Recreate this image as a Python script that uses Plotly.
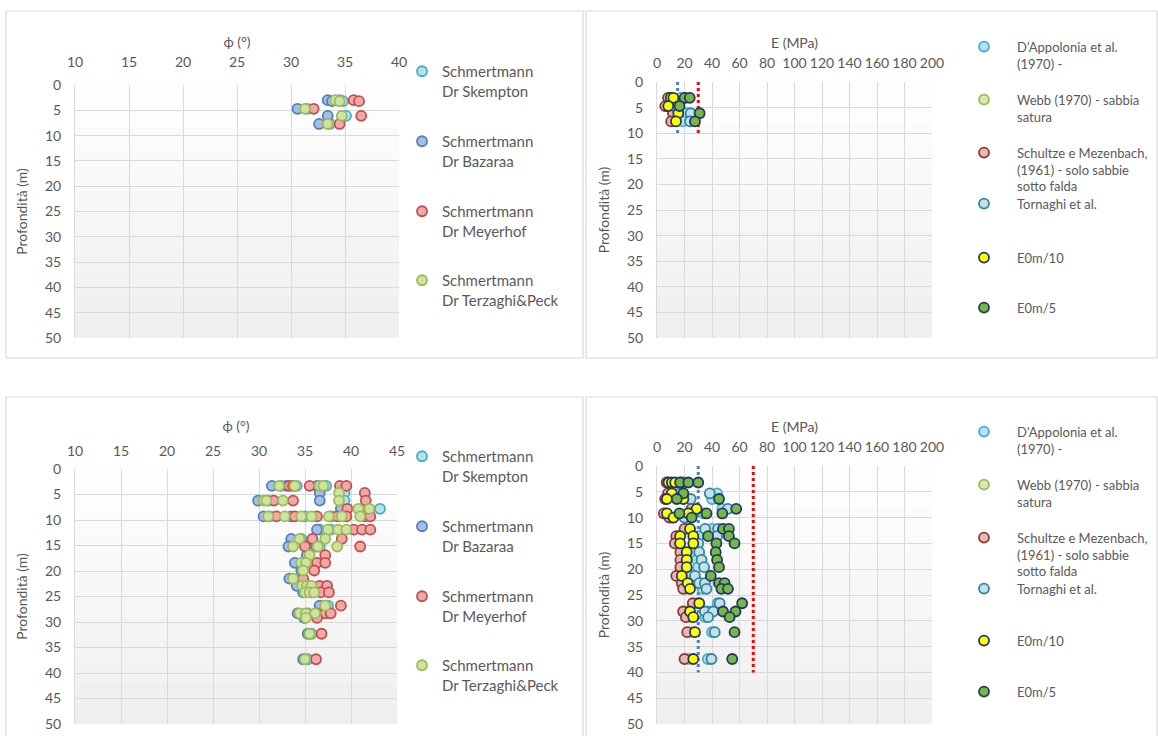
import plotly.graph_objects as go

W, H = 1158, 736

# ---------------- DATA ----------------
# Top-left: phi (deg) vs depth (m)
tl_depth_skempton = [3.0, 3.2, 4.7, 6.1, 7.7]
tl_phi_skempton = [34.5, 34.8, 31.5, 35.1, 33.6]
tl_depth_bazaraa = [3.0, 3.2, 4.7, 6.1, 7.7]
tl_phi_bazaraa = [33.4, 33.8, 30.6, 33.4, 32.6]
tl_depth_meyerhof = [3.0, 3.2, 4.7, 6.1, 7.7]
tl_phi_meyerhof = [35.8, 36.3, 32.1, 36.5, 34.5]
tl_depth_terzaghi = [3.0, 3.2, 4.7, 6.1, 7.7]
tl_phi_terzaghi = [34.1, 34.5, 31.3, 34.7, 33.4]

# Top-right: E (MPa) vs depth (m)
tr_depth_dappolonia = [3.1, 4.7, 6.1, 7.7]
tr_E_dappolonia = [17.0, 11.0, 21.0, 19.0]
tr_depth_webb = [3.1, 4.7, 6.1, 7.7]
tr_E_webb = [9.0, 6.5, 12.5, 11.5]
tr_depth_schultze = [3.1, 4.7, 6.1, 7.7]
tr_E_schultze = [8.0, 6.0, 11.6, 10.3]
tr_depth_tornaghi = [3.1, 4.7, 6.1, 7.7]
tr_E_tornaghi = [20.4, 12.6, 24.5, 24.0]
tr_depth_e10 = [3.1, 3.1, 4.7, 6.1, 7.7]
tr_E_e10 = [10.0, 11.9, 8.2, 15.5, 13.8]
tr_depth_e5 = [3.1, 3.1, 4.7, 6.1, 7.7]
tr_E_e5 = [20.0, 23.8, 16.4, 31.0, 27.6]
tr_ref_depth = [0, 10]
tr_ref_blue_E = [15, 15]
tr_ref_red_E = [30, 30]

# Bottom-left: phi (deg) vs depth (m)
bl_depth_skempton = [3.3, 3.3, 3.3, 4.7, 6.2, 6.2, 7.8, 9.3, 9.3, 9.3, 11.9, 11.9,
                     13.7, 15.2, 18.4, 24.2, 26.8, 28.3, 32.3, 37.3]
bl_phi_skempton = [32.4, 34.1, 37.3, 39.3, 31.0, 39.3, 43.15, 31.2, 35.0, 39.2, 36.6, 37.8,
                   34.6, 36.6, 34.8, 35.7, 37.5, 35.3, 35.7, 35.3]
bl_depth_bazaraa = [3.3, 3.3, 3.3, 4.7, 6.2, 6.2, 7.8, 9.3, 9.3, 9.3, 11.9, 13.7,
                    15.2, 15.2, 16.9, 18.4, 19.9, 21.5, 22.9, 24.2, 26.8, 28.3, 29.2, 32.3, 37.3]
bl_phi_bazaraa = [31.4, 33.0, 36.3, 36.6, 29.9, 36.6, 38.9, 30.5, 33.5, 37.8, 36.3, 33.5,
                  33.2, 36.2, 35.2, 33.9, 34.6, 33.3, 34.1, 34.8, 36.6, 34.2, 34.9, 35.3, 34.8]
bl_depth_meyerhof = [3.3, 3.3, 3.3, 3.3, 3.3, 4.7, 6.2, 6.2, 6.2, 7.8,
                     9.3, 9.3, 9.3, 9.3, 9.3, 9.3, 9.3, 11.9, 11.9, 11.9, 13.7, 13.7,
                     15.2, 15.2, 16.9, 18.4, 18.4, 19.9, 21.5, 22.9, 22.9, 24.2, 24.2,
                     26.8, 28.3, 28.3, 28.3, 29.2, 32.3, 37.3]
bl_phi_meyerhof = [33.3, 33.7, 35.5, 38.8, 39.5, 41.5, 31.6, 33.7, 41.6, 39.6,
                   31.9, 33.9, 36.3, 38.5, 39.5, 41.5, 42.1, 40.3, 41.2, 42.1, 35.8, 39.0,
                   35.0, 41.0, 37.2, 36.3, 37.2, 36.0, 34.8, 36.6, 37.4, 36.7, 37.6,
                   38.9, 36.3, 37.2, 37.8, 36.3, 36.8, 36.2]
bl_depth_terzaghi = [3.3, 3.3, 3.3, 3.3, 4.7, 6.2, 6.2, 6.2, 6.2, 7.8, 7.8,
                     9.3, 9.3, 9.3, 9.3, 9.3, 9.3, 9.3, 11.9, 11.9, 11.9, 13.7, 13.7,
                     15.2, 15.2, 15.2, 16.9, 18.4, 18.4, 19.9, 21.5, 22.9, 22.9, 22.9,
                     24.2, 24.2, 24.2, 26.8, 28.3, 28.3, 28.3, 29.2, 32.3, 37.3]
bl_phi_terzaghi = [32.2, 33.9, 36.6, 37.0, 38.7, 30.5, 30.8, 32.6, 38.7, 40.8, 42.0,
                   31.0, 32.8, 34.6, 35.7, 37.6, 39.0, 41.0, 37.5, 38.6, 39.5, 34.4, 37.2,
                   33.7, 36.4, 38.5, 35.5, 34.6, 35.1, 34.8, 33.7, 34.7, 35.2, 35.7,
                   35.0, 35.5, 36.0, 37.2, 34.4, 35.1, 36.1, 35.1, 35.5, 35.0]

# Bottom-right: E (MPa) vs depth (m)
br_depth_main = [3.2, 5.3, 6.4, 8.3, 9.2, 10.0, 12.2, 13.6, 15.0, 16.7, 18.2, 19.6,
                 21.3, 22.7, 23.8, 26.6, 28.2, 29.3, 32.2, 37.4]
br_E_dappolonia = [18, 43.7, 40, 47.5, 34, 21, 40, 30, 28, 27, 29, 30,
                   25, 31, 33, 44, 37, 35, 40, 37]
br_E_webb = [7.5, 9, 6, 26, 6, 11, 22, 15, 15, 19, 19, 20,
             16, 20, 21, 29, 21, 24, 25, 23]
br_E_schultze = [7, 8, 6, 25, 5, 9, 20, 14, 13, 17, 17, 17,
                 14, 18, 19, 26, 19, 21, 22, 20]
br_depth_tornaghi = [3.2, 5.3, 5.3, 6.4, 8.3, 9.2, 10.0, 12.2, 12.2, 13.6, 15.0, 16.7, 18.2,
                     19.6, 21.3, 22.7, 22.7, 23.8, 26.6, 28.2, 28.2, 29.3, 32.2, 37.4]
br_E_tornaghi = [19.5, 16.8, 38.4, 24.5, 51.6, 24.5, 20, 44.4, 35, 43.7, 30.0, 30.7, 32.4,
                 34.3, 27.6, 30.7, 34.8, 36.0, 45.6, 34.8, 40.8, 37.2, 42.0, 39.6]
br_depth_e10 = [3.2, 3.2, 3.2, 5.3, 6.4, 6.4, 8.3, 9.2, 9.2, 10.0, 12.2, 13.6, 13.6,
                15.0, 15.0, 16.7, 18.2, 19.6, 21.3, 22.7, 23.8, 26.6, 28.2, 29.3, 32.2, 37.4]
br_E_e10 = [8.4, 10.8, 13.2, 10.8, 7.2, 19.2, 28.8, 7.2, 22.8, 12.0, 24.0, 16.8, 26.4,
            16.8, 26.4, 21.6, 21.6, 21.6, 18.0, 22.3, 24.0, 30.7, 24.0, 26.4, 27.6, 26.4]
br_depth_e5 = [3.2, 3.2, 3.2, 5.3, 6.4, 6.4, 8.3, 9.2, 9.2, 9.2, 10.0, 12.2, 12.2, 13.6, 13.6,
               15.0, 15.0, 16.7, 18.2, 19.6, 21.3, 22.7, 22.7, 23.8, 23.8, 26.6, 28.2, 28.2,
               29.3, 32.2, 37.4]
br_E_e5 = [16.8, 22.8, 30.0, 19.2, 14.4, 45.1, 57.6, 16.3, 36.0, 47.5, 25.2, 48.0, 52.3, 37.2, 52.3,
           43.2, 56.4, 42.7, 43.7, 45.1, 39.1, 45.1, 49.2, 46.8, 51.6, 61.9, 48.0, 57.1,
           52.8, 56.4, 54.7]
br_ref_depth = [0, 40]
br_ref_blue_E = [30, 30]
br_ref_red_E = [70, 70]

phi_names = ["Schmertmann<br>Dr Skempton", "Schmertmann<br>Dr Bazaraa",
             "Schmertmann<br>Dr Meyerhof", "Schmertmann<br>Dr Terzaghi&Peck"]
E_names = ["D'Appolonia et al.<br>(1970) -", "Webb (1970) - sabbia<br>satura",
           "Schultze e Mezenbach,<br>(1961) - solo sabbie<br>sotto falda",
           "Tornaghi et al.", "E0m/10", "E0m/5"]

# ---------------- STYLE ----------------
FONT = "Lato, 'Open Sans', sans-serif"
GREY = "#595959"
phi_styles = [("#b4e1ee", "#4bacc6"), ("#a7bfe6", "#4f81bd"),
              ("#f0a9a8", "#c0504d"), ("#cfe3a0", "#9bbb59")]
E_styles = [("#b4e1ee", "#4bacc6"), ("#d7e8b4", "#9bbb59"), ("#e8b8b7", "#8c3836"),
            ("#c4e0e8", "#31859c"), ("#ffff00", "#1f3864"), ("#76b843", "#1f3864")]

# legend item placement (first-line centre in px)
phi_leg_top = [72, 142, 212, 281]
phi_leg_bottom = [457, 527, 597, 666]
E_leg_top = [47, 100, 153, 204, 258, 308]
E_leg_bottom = [432, 485, 538, 589, 641, 692]

fig = go.Figure()
legends = {}
leg_counter = [0]


def px_x(p):
    return p / W


def px_y(p):
    return 1 - p / H


def new_legend(x, line_centre, size):
    leg_counter[0] += 1
    key = "legend" if leg_counter[0] == 1 else "legend%d" % leg_counter[0]
    off = 17 if size >= 15 else 15.4
    legends[key] = dict(x=px_x(x), y=px_y(line_centre - off), xanchor="left", yanchor="top",
                        font=dict(size=size, color=GREY, family=FONT),
                        itemwidth=30 if size >= 15 else 56, valign="top",
                        bgcolor="rgba(0,0,0,0)")
    return key


def add_pts(x, y, name, style, xa, ya, leg):
    fig.add_trace(go.Scatter(
        x=x, y=y, mode="markers", name=name, legend=leg,
        xaxis=xa, yaxis=ya,
        marker=dict(size=10, color=style[0], line=dict(color=style[1], width=1.8)),
    ))


def add_line(x, y, color, xa, ya):
    fig.add_trace(go.Scatter(x=x, y=y, mode="lines", showlegend=False, xaxis=xa, yaxis=ya,
                             line=dict(color=color, width=3, dash="dot"), hoverinfo="skip"))


# top-left
tl = [(tl_phi_skempton, tl_depth_skempton), (tl_phi_bazaraa, tl_depth_bazaraa),
      (tl_phi_meyerhof, tl_depth_meyerhof), (tl_phi_terzaghi, tl_depth_terzaghi)]
for (x, y), n, s, ly in zip(tl, phi_names, phi_styles, phi_leg_top):
    add_pts(x, y, n, s, "x", "y", new_legend(402, ly, 15))

# top-right
add_line(tr_ref_blue_E, tr_ref_depth, "#4f81bd", "x2", "y2")
add_line(tr_ref_red_E, tr_ref_depth, "#ff0000", "x2", "y2")
trs = [(tr_E_dappolonia, tr_depth_dappolonia), (tr_E_webb, tr_depth_webb),
       (tr_E_schultze, tr_depth_schultze), (tr_E_tornaghi, tr_depth_tornaghi),
       (tr_E_e10, tr_depth_e10), (tr_E_e5, tr_depth_e5)]
for (x, y), n, s, ly in zip(trs, E_names, E_styles, E_leg_top):
    add_pts(x, y, n, s, "x2", "y2", new_legend(951, ly, 13))

# bottom-left
bl = [(bl_phi_skempton, bl_depth_skempton), (bl_phi_bazaraa, bl_depth_bazaraa),
      (bl_phi_meyerhof, bl_depth_meyerhof), (bl_phi_terzaghi, bl_depth_terzaghi)]
for (x, y), n, s, ly in zip(bl, phi_names, phi_styles, phi_leg_bottom):
    add_pts(x, y, n, s, "x3", "y3", new_legend(402, ly, 15))

# bottom-right
add_line(br_ref_blue_E, br_ref_depth, "#4f81bd", "x4", "y4")
add_line(br_ref_red_E, br_ref_depth, "#ff0000", "x4", "y4")
brs = [(br_E_dappolonia, br_depth_main), (br_E_webb, br_depth_main),
       (br_E_schultze, br_depth_main), (br_E_tornaghi, br_depth_tornaghi),
       (br_E_e10, br_depth_e10), (br_E_e5, br_depth_e5)]
for (x, y), n, s, ly in zip(brs, E_names, E_styles, E_leg_bottom):
    add_pts(x, y, n, s, "x4", "y4", new_legend(951, ly, 13))


def xax(dom, rng, dt, title, anchor, standoff, tstand=2):
    return dict(domain=[px_x(dom[0]), px_x(dom[1])], range=rng, dtick=dt, side="top",
                anchor=anchor, showgrid=True, gridcolor="#d9d9d9", gridwidth=1,
                zeroline=False, showline=False, ticks="", ticklabelstandoff=standoff,
                automargin=False,
                tickfont=dict(size=14, color=GREY, family=FONT),
                title=dict(text=title, font=dict(size=14, color=GREY, family=FONT),
                           standoff=tstand))


def yax(dom, anchor):
    return dict(domain=[px_y(dom[1]), px_y(dom[0])], range=[50, 0], dtick=5,
                anchor=anchor, showgrid=True, gridcolor="#d9d9d9", gridwidth=1,
                zeroline=False, showline=True, linecolor="#d9d9d9", ticks="",
                ticklabelstandoff=10, automargin=False,
                tickfont=dict(size=14, color=GREY, family=FONT),
                title=dict(text="Profondità (m)", font=dict(size=14, color=GREY, family=FONT),
                           standoff=14))


shapes = []
for (x0, y0, x1, y1) in [(6, 11, 583, 358), (586, 11, 1157, 358),
                         (6, 397, 583, 740), (586, 397, 1157, 740)]:
    shapes.append(dict(type="rect", xref="paper", yref="paper",
                       x0=px_x(x0), x1=px_x(x1), y0=px_y(y1), y1=px_y(y0),
                       line=dict(color="#d9d9d9", width=1.2), fillcolor="rgba(0,0,0,0)"))

# subtle vertical gradient in each plot area
NB = 12
for ax in ["", "2", "3", "4"]:
    for i in range(NB):
        g = int(round(255 - (255 - 238) * (1 - (i + 0.5) / NB)))
        shapes.append(dict(type="rect", xref="x%s domain" % ax, yref="y%s domain" % ax,
                           x0=0, x1=1, y0=i / NB, y1=(i + 1) / NB, layer="below",
                           line=dict(width=0), fillcolor="rgb(%d,%d,%d)" % (g, g, g)))

fig.update_layout(
    width=W, height=H, margin=dict(l=0, r=0, t=0, b=0, autoexpand=False),
    paper_bgcolor="white", plot_bgcolor="white",
    font=dict(family=FONT, color=GREY),
    xaxis=xax((75, 399), [10, 40], 5, "ϕ (°)", "y", 14),
    yaxis=yax((85, 338), "x"),
    xaxis2=xax((657, 932), [0, 200], 20, "E (MPa)", "y2", 10),
    yaxis2=yax((82, 338), "x2"),
    xaxis3=xax((75, 397), [10, 45], 5, "ϕ (°)", "y3", 9, 7),
    yaxis3=yax((469, 724), "x3"),
    xaxis4=xax((657, 932), [0, 200], 20, "E (MPa)", "y4", 10),
    yaxis4=yax((466, 724), "x4"),
    shapes=shapes,
    **legends,
)

fig.write_html("out.html")
